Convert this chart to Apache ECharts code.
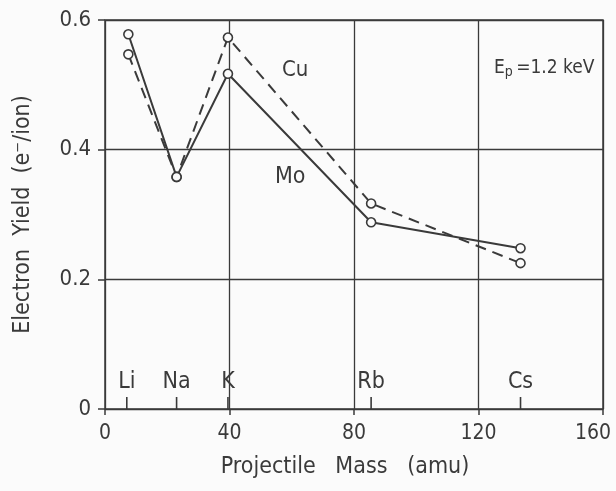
<!DOCTYPE html>
<html>
<head>
<meta charset="utf-8">
<script src="https://cdn.jsdelivr.net/npm/echarts@6/dist/echarts.min.js"></script>
<style>
  html, body { margin: 0; padding: 0; background: #fbfbfb; }
  #main { width: 616px; height: 491px; }
</style>
</head>
<body>
<div id="main"></div>
<script>
// projectile masses (amu) and yields
var elements = ['Li', 'Na', 'K', 'Rb', 'Cs'];
var masses = [7.5, 23, 39.5, 85.5, 133.5];
var markMass = [7, 23, 39.5, 85.5, 133.5];
var yieldMo = [0.578, 0.358, 0.517, 0.288, 0.248];
var yieldCu = [0.547, 0.358, 0.573, 0.317, 0.225];

var ink = '#3a3a3a';
var font = '"DejaVu Sans Condensed", "DejaVu Sans"';

function pairs(xs, ys) {
  return xs.map(function (x, i) { return [x, ys[i]]; });
}

var chart = echarts.init(document.getElementById('main'));

var option = {
  backgroundColor: '#fbfbfb',
  animation: false,
  grid: {
    left: 105, right: 13, top: 20, bottom: 82, show: true,
    outerBoundsMode: 'none', containLabel: false,
    borderColor: ink, borderWidth: 1.5, backgroundColor: 'transparent'
  },
  xAxis: {
    type: 'value', min: 0, max: 160, interval: 40,
    name: 'Projectile   Mass   (amu)', nameLocation: 'middle', nameGap: 47,
    nameTextStyle: { fontFamily: font, fontSize: 23, color: ink, padding: [0, 18, 0, 0] },
    axisLine: { show: false },
    axisTick: { show: true, length: 6, lineStyle: { color: ink, width: 1.5 } },
    axisLabel: {
      fontFamily: font, fontSize: 21, color: ink, margin: 14,
      // last label is nudged left so it stays on the page
      formatter: function (v) { return v === 160 ? '{m|160}' : String(v); },
      rich: { m: { fontFamily: font, fontSize: 21, color: ink, padding: [0, 20, 0, 0] } }
    },
    splitLine: { show: true, lineStyle: { color: ink, width: 1.3 } }
  },
  yAxis: {
    type: 'value', min: 0, max: 0.6, interval: 0.2,
    name: 'Electron  Yield  (e\u207B/ion)', nameLocation: 'middle', nameGap: 70,
    nameTextStyle: { fontFamily: font, fontSize: 23, color: ink },
    axisLine: { show: false },
    axisTick: { show: true, length: 7, lineStyle: { color: ink, width: 1.5 } },
    axisLabel: {
      fontFamily: font, fontSize: 22, color: ink, margin: 14,
      formatter: function (v) { return v === 0 ? '0' : v.toFixed(1); }
    },
    splitLine: { show: true, lineStyle: { color: ink, width: 1.3 } }
  },
  series: [
    {
      name: 'Mo', type: 'line', data: pairs(masses, yieldMo),
      symbol: 'circle', symbolSize: 9,
      lineStyle: { color: ink, width: 2 },
      itemStyle: { color: '#fbfbfb', borderColor: ink, borderWidth: 1.6 },
      z: 3
    },
    {
      name: 'Cu', type: 'line', data: pairs(masses, yieldCu),
      symbol: 'circle', symbolSize: 9,
      lineStyle: { color: ink, width: 2, type: [11, 7] },
      itemStyle: { color: '#fbfbfb', borderColor: ink, borderWidth: 1.6 },
      z: 3
    },
    {
      // element markers sitting on the mass axis
      name: 'elements', type: 'scatter',
      data: markMass.map(function (m, i) { return { value: [m, 0], name: elements[i] }; }),
      symbol: 'rect', symbolSize: [1.6, 12], symbolOffset: [0, -6],
      itemStyle: { color: ink, opacity: 1 },
      label: {
        show: true, position: 'top', distance: 3,
        formatter: function (p) { return p.name; },
        fontFamily: font, fontSize: 23, color: ink, opacity: 1
      },
      z: 2
    }
  ],
  graphic: [
    { type: 'text', left: 282, top: 59, style: { text: 'Cu', font: '22px "DejaVu Sans Condensed"', fill: ink } },
    { type: 'text', left: 275, top: 166, style: { text: 'Mo', font: '23px "DejaVu Sans Condensed"', fill: ink } },
    {
      type: 'text', left: 494, top: 59,
      style: {
        text: '{e|E}{s|p} {e|=1.2 keV}',
        rich: {
          e: { fontFamily: font, fontSize: 19, fill: ink, color: ink },
          s: { fontFamily: font, fontSize: 14, fill: ink, color: ink, verticalAlign: 'bottom', padding: [8, 0, 0, 0] }
        }
      }
    }
  ]
};

chart.setOption(option);
</script>
</body>
</html>
